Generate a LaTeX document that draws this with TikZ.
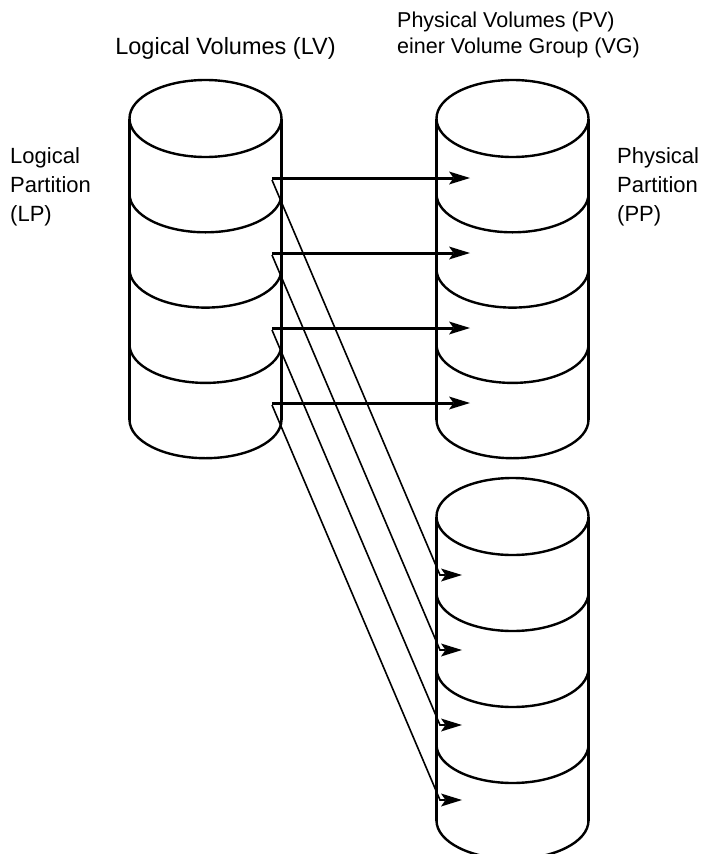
\documentclass[tikz,border=0pt]{standalone}
\usepackage{fontspec}
\setmainfont{Liberation Sans}

% one disk: full top ellipse, two sides, lower half-arcs for each partition border
\newcommand{\diskstack}[4]{% #1 = centre x, #2 = top ellipse centre y, #3 = partition height, #4 = partitions
  \draw[disk] (#1,#2) ellipse [x radius=76, y radius=38.5];
  \draw[disk] (#1-76,#2) -- (#1-76,#2+#4*#3);
  \draw[disk] (#1+76,#2) -- (#1+76,#2+#4*#3);
  \foreach \k in {1,...,#4}{
    \draw[disk] (#1-76,#2+\k*#3) arc [start angle=180, end angle=0, x radius=76, y radius=38.5];
  }
}
% filled barbed arrowhead whose point sits at the given coordinate, pointing right
\newcommand{\barbtip}[1]{%
  \fill[shift={(#1)}] (0,0) -- (-21,-6.5) -- (-16.5,0) -- (-21,6.5) -- cycle;
}

\begin{document}
\begin{tikzpicture}[x=1pt,y=-1pt,
  disk/.style={line width=2.4pt, line join=round},
  label/.style={font=\fontsize{22}{29}\selectfont, inner sep=0pt, align=left},
  mapped/.style={line width=3pt},
  mirrored/.style={line width=1.6pt, line join=miter}]

\useasboundingbox (0,0) rectangle (708,854);
\clip (0,0) rectangle (708,854);

% volumes
\diskstack{205.5}{118.5}{75.3}{4}
\diskstack{512.5}{118.5}{75.3}{4}
\diskstack{512.5}{516.5}{76}{4}

% labels
\node[label, font=\fontsize{23.5}{29}\selectfont] (lvtitle) at (225.5,48) {Logical Volumes (LV)};
\node[label, anchor=west, font=\fontsize{21.5}{26.5}\selectfont] (pvtitle) at (397,35) {Physical Volumes (PV)\\einer Volume Group (VG)};
\node[label, anchor=west] (lplabel) at (10,187) {Logical\\Partition\\(LP)};
\node[label, anchor=west] (pplabel) at (617,187) {Physical\\Partition\\(PP)};

% partition anchors
\foreach \i in {1,...,4}{
  \coordinate (lp\i) at (272,{178+(\i-1)*75});
  \coordinate (lq\i) at (272,{180+(\i-1)*75});
  \coordinate (ppa\i) at (470,{178+(\i-1)*75});
  \coordinate (ppb\i) at (440,{575+(\i-1)*75});
  \coordinate (ppt\i) at (462,{575+(\i-1)*75});
}

% each logical partition goes to one partition on each physical volume
\foreach \i in {1,...,4}{
  \draw[mapped] (lp\i) -- ([xshift=-17pt]ppa\i);
  \barbtip{ppa\i}
  \draw[mirrored] (lq\i) -- (ppb\i) -- ([xshift=-17pt]ppt\i);
  \barbtip{ppt\i}
}
\end{tikzpicture}
\end{document}
